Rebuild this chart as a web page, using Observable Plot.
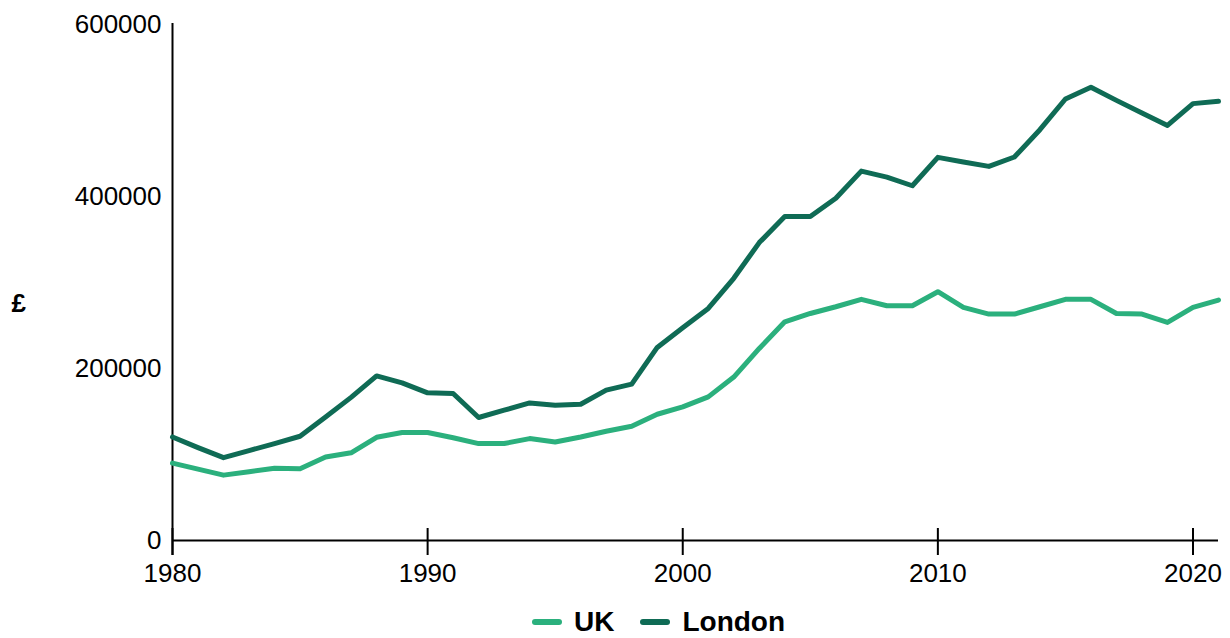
<!DOCTYPE html>
<html>
<head>
<meta charset="utf-8">
<script src="https://cdn.jsdelivr.net/npm/d3@7"></script>
<script src="https://cdn.jsdelivr.net/npm/@observablehq/plot@0.6"></script>
<style>
  html, body { margin: 0; padding: 0; background: #fff; }
  body { width: 1230px; height: 638px; overflow: hidden; font-family: "Liberation Sans", Arial, sans-serif; }
  #chart svg { display: block; }
  #legend { height: 38px; display: flex; justify-content: flex-start; align-items: flex-end; padding-left: 532px; padding-bottom: 4px; box-sizing: border-box; font-weight: bold; font-size: 28px; color: #000; }
  .item { display: flex; align-items: center; height: 24px; margin-right: 26px; }
  .item span.t { display: block; line-height: 24px; }
  .sw { display: block; width: 30px; height: 6px; border-radius: 3px; margin-right: 12px; }
</style>
</head>
<body>
<div id="chart"></div>
<div id="legend"></div>
<script>
const years = [1980,1981,1982,1983,1984,1985,1986,1987,1988,1989,1990,1991,1992,1993,1994,1995,1996,1997,1998,1999,2000,2001,2002,2003,2004,2005,2006,2007,2008,2009,2010,2011,2012,2013,2014,2015,2016,2017,2018,2019,2020,2021];
const ukValues = [90000,83000,76000,80000,84000,83500,97000,102000,120000,125500,125500,119500,112700,112700,118500,114500,120400,127000,132800,146800,155300,167000,190000,223300,254300,264000,271800,280400,273000,273000,289300,271100,263300,263300,271800,280400,280400,264000,263300,253600,271100,279600];
const londonValues = [120400,108000,96300,104500,112700,121200,143500,166400,191400,183300,171700,170900,143000,151500,160000,157300,158400,174800,181800,224500,247400,269900,304900,346400,376700,376700,398000,429500,422600,412500,445500,440100,435000,445900,477700,513400,527000,511800,497100,482700,508000,510700];
const seriesNames = ["UK", "London"];
const seriesColors = ["#2bb07d", "#0f6b55"];
const xTicks = [1980, 1990, 2000, 2010, 2020];
const yTicks = [0, 200000, 400000, 600000];
const yLabel = "£";

const data = [];
years.forEach((y, i) => {
  data.push({year: y, value: ukValues[i], series: seriesNames[0]});
  data.push({year: y, value: londonValues[i], series: seriesNames[1]});
});

const chart = Plot.plot({
  width: 1230,
  height: 600,
  marginTop: 24,
  marginBottom: 60,
  marginLeft: 172,
  marginRight: 12,
  style: {fontFamily: "'Liberation Sans', Arial, sans-serif", fontSize: "26px", color: "#000", background: "#fff"},
  x: {domain: [1980, 2021]},
  y: {domain: [0, 600000]},
  color: {domain: seriesNames, range: seriesColors},
  marks: [
    Plot.axisX({ticks: xTicks, tickSize: 0, tickPadding: 23, tickFormat: d3.format("d"), label: null, fontSize: 26}),
    Plot.axisY({ticks: yTicks, tickSize: 0, tickPadding: 11, tickFormat: d3.format("d"), label: null, fontSize: 26}),
    Plot.ruleX(xTicks, {stroke: "#000", strokeWidth: 2, insetTop: 504, insetBottom: -15}),
    Plot.ruleY([0], {stroke: "#000", strokeWidth: 2}),
    Plot.ruleX([1980], {stroke: "#000", strokeWidth: 2, insetTop: -1, insetBottom: -15}),
    Plot.line(data, {x: "year", y: "value", z: "series", stroke: "series", strokeWidth: 5, strokeLinecap: "round"}),
    Plot.text([yLabel], {frameAnchor: "left", dx: -161, dy: 21, text: d => d, fontWeight: "bold", fontSize: 26, fill: "#000"})
  ]
});
document.getElementById("chart").appendChild(chart);

const legend = document.getElementById("legend");
seriesNames.forEach((name, i) => {
  const item = document.createElement("div");
  item.className = "item";
  const sw = document.createElement("span");
  sw.className = "sw";
  sw.style.background = seriesColors[i];
  item.appendChild(sw);
  const t = document.createElement("span");
  t.className = "t";
  t.textContent = name;
  item.appendChild(t);
  legend.appendChild(item);
});
</script>
</body>
</html>
